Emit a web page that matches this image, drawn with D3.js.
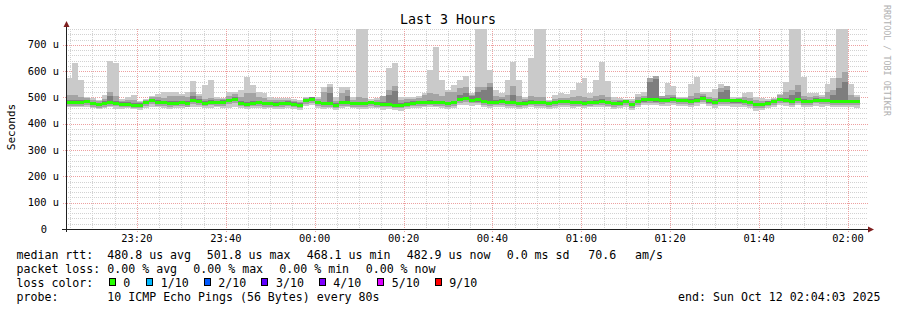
<!DOCTYPE html>
<html>
<head>
<meta charset="utf-8">
<script src="https://cdn.jsdelivr.net/npm/d3@7"></script>
<style>
    body { margin: 0; background: #ffffff; }
    text { font-family: "DejaVu Sans Mono", monospace; fill: #000000; }
</style>
</head>
<body>
<script>
// ---------------------------------------------------------------------------- //
//                                   DATA                                       //
// ---------------------------------------------------------------------------- //

// one value per 80 s step, 10 pings per step (sorted ping times in us)
var median = [481,480,481,485,477,473,477,480,478,474,474,471,470,480,489,481,481,477,478,480,477,489,486,478,482,481,482,488,494,478,474,478,480,476,
              477,474,476,478,474,470,489,494,481,476,477,471,480,481,477,476,476,480,477,474,474,471,471,475,478,480,481,482,481,480,476,480,494,496,
              490,491,486,480,482,486,480,481,477,478,482,480,480,476,480,484,484,480,481,478,481,482,486,481,477,478,484,473,485,491,494,491,489,
              490,493,488,488,486,490,497,487,482,489,489,487,487,485,481,472,473,478,485,492,490,486,493,486,485,490,488,488,486,486,486,485,484];

var ping10 = [573,630,567,500,497,490,510,640,630,495,500,510,487,493,505,513,520,520,520,513,520,561,513,548,567,500,497,522,520,530,579,548,520,517,
              500,498,496,496,493,490,502,502,502,541,552,500,541,541,500,790,790,494,496,505,611,630,500,500,500,505,517,604,693,567,530,548,567,582,
              517,790,790,604,529,517,567,636,567,500,649,790,790,492,510,517,513,530,556,573,516,567,636,563,500,497,494,494,513,520,573,583,502,
              556,543,500,502,551,579,520,520,531,551,541,500,500,516,520,503,498,494,498,513,560,790,790,579,516,518,510,551,573,790,790,551,510];

var ping9  = [510,508,500,498,490,485,495,520,505,488,490,492,482,490,500,502,498,505,504,505,503,520,505,495,498,494,493,505,512,500,515,515,500,498,
              492,490,489,490,486,482,498,500,495,520,540,488,515,530,490,500,498,488,490,505,530,545,492,494,495,496,510,515,512,505,520,520,535,540,
              510,540,541,556,505,500,510,545,505,495,505,500,500,486,495,498,498,500,505,500,496,505,510,500,490,490,492,486,500,505,575,580,505,
              510,510,498,497,505,515,512,500,498,535,545,495,498,500,498,490,488,488,495,510,520,530,548,505,500,505,502,520,530,575,598,510,500];

var ping8  = [490,490,490,492,484,480,485,505,486,482,482,479,477,487,495,489,488,485,486,488,485,505,493,486,489,488,489,495,502,486,482,486,488,484,
              484,481,483,485,481,477,495,500,488,483,515,478,487,505,484,483,483,487,484,481,510,525,478,482,485,487,488,489,488,487,483,487,510,515,
              505,520,530,540,489,493,487,510,484,485,489,487,487,483,487,491,491,487,488,485,488,489,493,488,484,485,491,480,492,498,560,570,496,
              497,500,495,495,493,497,504,494,489,520,530,494,494,492,488,479,480,485,492,499,497,510,520,493,492,497,495,495,510,535,560,492,491];

var ping3  = [475,474,474,478,471,467,471,474,472,468,468,465,464,474,482,475,475,471,472,474,471,482,479,472,476,475,476,481,487,472,468,472,474,470,
              471,468,470,472,468,464,482,487,475,470,471,465,474,475,471,470,470,474,471,468,468,465,465,469,472,474,475,476,475,474,470,474,487,489,
              483,484,479,474,476,479,474,475,471,472,476,474,474,470,474,477,477,474,475,472,475,476,479,475,471,472,477,467,478,484,487,484,482,
              483,486,481,481,479,483,489,480,476,482,482,480,480,478,475,466,467,472,478,485,483,479,486,479,478,483,481,481,479,479,479,478,477];

var ping2  = [468,468,469,472,465,461,465,468,466,462,462,460,458,467,475,469,468,465,466,468,465,476,473,466,470,469,469,475,480,466,462,466,468,464,
              465,462,464,466,462,458,476,480,469,464,465,459,468,469,465,464,464,468,465,462,462,459,459,463,466,468,469,470,469,468,464,468,480,482,
              477,478,473,468,470,473,468,469,465,466,470,468,468,464,468,471,471,468,469,466,469,470,473,469,465,466,471,461,472,478,480,478,476,
              477,480,475,475,473,477,482,474,470,476,476,474,474,472,469,460,461,466,472,478,477,473,480,473,472,477,475,475,473,473,473,472,471];

var ping1  = [465,465,463,465,458,455,460,462,457,455,458,455,452,460,465,462,460,455,458,460,462,465,462,460,460,462,460,458,462,458,455,460,460,455,
              458,455,457,460,455,452,468,472,460,456,458,452,460,462,458,455,456,460,458,454,455,452,450,456,458,460,462,463,462,460,456,460,470,472,
              468,470,465,460,462,465,458,460,456,458,462,458,460,455,460,464,464,460,462,458,462,462,465,462,456,458,464,452,465,470,472,470,468,
              468,472,466,466,464,468,474,466,460,466,466,465,465,463,460,450,452,458,464,470,468,464,472,464,462,468,465,466,462,462,462,462,460];

var yTickValues  = [0, 100, 200, 300, 400, 500, 600, 700];
var yTickLabels  = ["0", "100 u", "200 u", "300 u", "400 u", "500 u", "600 u", "700 u"];
var lossLabels   = ["0", "1/10", "2/10", "3/10", "4/10", "5/10", "9/10"];
var lossColors   = ["#26ff00", "#00b8ff", "#0059ff", "#5e00ff", "#7e00ff", "#dd00ff", "#ff0000"];

var endTime   = new Date(Date.UTC(2025, 9, 12, 2, 4, 3));
var startTime = new Date(endTime.getTime() - 3 * 3600 * 1000);
var stepMs    = 80 * 1000;

// ---------------------------------------------------------------------------- //
//                                  SETUP                                       //
// ---------------------------------------------------------------------------- //

var W = 897, H = 310;
var pLeft = 66, pRight = 866, pTop = 29, pBottom = 229;

var svg = d3.select("body")
    .append("svg")
    .attr("width", W)
    .attr("height", H);

var x = d3.scaleTime()
    .domain([startTime, endTime])
    .range([pLeft, pRight]);

var y = d3.scaleLinear()
    .domain([0, 760])
    .range([pBottom, pTop]);

var steps = median.map(function (m, i) {
    return {
        t: new Date(startTime.getTime() + i * stepMs),
        med: m,
        p: [ping1[i], ping2[i], ping3[i], ping8[i], ping9[i], ping10[i]]
    };
});
// closing point so the last step gets its width
var last = steps[steps.length - 1];
steps.push({ t: new Date(last.t.getTime() + stepMs), med: last.med, p: last.p });

svg.append("defs").append("clipPath")
    .attr("id", "plot")
    .append("rect")
    .attr("x", pLeft).attr("y", pTop)
    .attr("width", pRight - pLeft).attr("height", pBottom - pTop);

// ---------------------------------------------------------------------------- //
//                                   GRID                                       //
// ---------------------------------------------------------------------------- //

var minorColor = "#d2d2d2";
var majorColor = "#eda0a0";

var minorY = d3.range(0, 761, 20).filter(function (v) { return v % 100 != 0; });
svg.selectAll(".hminor").data(minorY).enter().append("line")
    .attr("x1", pLeft).attr("x2", pRight + 2)
    .attr("y1", function (d) { return Math.round(y(d)) + 0.5; })
    .attr("y2", function (d) { return Math.round(y(d)) + 0.5; })
    .attr("stroke", minorColor)
    .attr("stroke-dasharray", "1,1");

var minorX = d3.utcMinute.every(5).range(startTime, endTime)
    .filter(function (d) { return d.getUTCMinutes() % 20 != 0; });
svg.selectAll(".vminor").data(minorX).enter().append("line")
    .attr("x1", function (d) { return Math.round(x(d)) + 0.5; })
    .attr("x2", function (d) { return Math.round(x(d)) + 0.5; })
    .attr("y1", pTop).attr("y2", pBottom)
    .attr("stroke", minorColor)
    .attr("stroke-dasharray", "1,1");

svg.selectAll(".hmajor").data(yTickValues.slice(1)).enter().append("line")
    .attr("x1", pLeft - 3).attr("x2", pRight + 2)
    .attr("y1", function (d) { return Math.round(y(d)) + 0.5; })
    .attr("y2", function (d) { return Math.round(y(d)) + 0.5; })
    .attr("stroke", majorColor)
    .attr("stroke-dasharray", "1,1");

var majorX = d3.utcMinute.every(20).range(startTime, endTime);
svg.selectAll(".vmajor").data(majorX).enter().append("line")
    .attr("x1", function (d) { return Math.round(x(d)) + 0.5; })
    .attr("x2", function (d) { return Math.round(x(d)) + 0.5; })
    .attr("y1", pTop).attr("y2", pBottom + 3)
    .attr("stroke", majorColor)
    .attr("stroke-dasharray", "1,1");

// ---------------------------------------------------------------------------- //
//                                  SMOKE                                       //
// ---------------------------------------------------------------------------- //

var smokeColors = ["#cacaca", "#a4a4a4", "#7e7e7e"];
var plot = svg.append("g").attr("clip-path", "url(#plot)");

smokeColors.forEach(function (col, k) {
    var band = d3.area()
        .curve(d3.curveStepAfter)
        .x(function (d) { return x(d.t); })
        .y0(function (d) { return y(d.p[k]); })
        .y1(function (d) { return y(d.p[5 - k]); });
    plot.append("path")
        .datum(steps)
        .attr("d", band)
        .attr("fill", col)
        .attr("shape-rendering", "crispEdges");
});

// median drawn as a thin band, coloured by loss
var medBand = d3.area()
    .curve(d3.curveStepAfter)
    .x(function (d) { return x(d.t); })
    .y0(function (d) { return y(d.med) + 1.5; })
    .y1(function (d) { return y(d.med) - 1.5; });

plot.append("path")
    .datum(steps)
    .attr("d", medBand)
    .attr("fill", lossColors[0])
    .attr("shape-rendering", "crispEdges");

// ---------------------------------------------------------------------------- //
//                                   AXES                                       //
// ---------------------------------------------------------------------------- //

var axisColor = "#202020";
var arrowColor = "#7f1f1f";

svg.append("line")
    .attr("x1", pLeft - 4).attr("x2", pRight + 2)
    .attr("y1", pBottom + 0.5).attr("y2", pBottom + 0.5)
    .attr("stroke", axisColor);

svg.append("line")
    .attr("x1", pLeft + 0.5).attr("x2", pLeft + 0.5)
    .attr("y1", pBottom + 3).attr("y2", pTop - 4)
    .attr("stroke", axisColor);

svg.append("path")
    .attr("d", "M" + (pRight + 2) + "," + (pBottom - 2.5) + " L" + (pRight + 8) + "," + (pBottom + 0.5) +
               " L" + (pRight + 2) + "," + (pBottom + 3.5) + " Z")
    .attr("fill", arrowColor);

svg.append("path")
    .attr("d", "M" + (pLeft - 2.5) + "," + (pTop - 2) + " L" + (pLeft + 0.5) + "," + (pTop - 8) +
               " L" + (pLeft + 3.5) + "," + (pTop - 2) + " Z")
    .attr("fill", arrowColor);

svg.selectAll(".ylab").data(yTickValues).enter().append("text")
    .attr("x", function (d) { return d == 0 ? 47 : 59; })
    .attr("y", function (d) { return y(d) + 3.5; })
    .attr("text-anchor", "end")
    .style("font-size", "10.4px")
    .text(function (d, i) { return yTickLabels[i]; });

var fmt = d3.utcFormat("%H:%M");
svg.selectAll(".xlab").data(majorX).enter().append("text")
    .attr("x", function (d) { return x(d); })
    .attr("y", 242)
    .attr("text-anchor", "middle")
    .style("font-size", "10.4px")
    .text(function (d) { return fmt(d); });

// ---------------------------------------------------------------------------- //
//                                   TEXT                                       //
// ---------------------------------------------------------------------------- //

svg.append("text")
    .attr("x", 448).attr("y", 24)
    .attr("text-anchor", "middle")
    .style("font-size", "13.3px")
    .text("Last 3 Hours");

svg.append("text")
    .attr("transform", "translate(15,127) rotate(-90)")
    .attr("text-anchor", "middle")
    .style("font-size", "11px")
    .text("Seconds");

svg.append("text")
    .attr("transform", "translate(884,5) rotate(90)")
    .attr("text-anchor", "start")
    .style("font-size", "8.4px")
    .style("fill", "#b0b0b0")
    .text("RRDTOOL / TOBI OETIKER");

function legendText (xPos, yPos, str, anchor)
{
    return svg.append("text")
        .attr("x", xPos)
        .attr("y", yPos)
        .attr("text-anchor", anchor || "start")
        .style("font-size", "11.6px")
        .text(str);
}

legendText(16.5, 258.5, "median rtt:");
legendText(107.3, 258.5, "480.8 us avg");
legendText(206.7, 258.5, "501.8 us max");
legendText(306.7, 258.5, "468.1 us min");
legendText(406.7, 258.5, "482.9 us now");
legendText(506.7, 258.5, "0.0 ms sd");
legendText(588.3, 258.5, "70.6");
legendText(635, 258.5, "am/s");

legendText(16.5, 272.5, "packet loss:");
legendText(107.3, 272.5, "0.00 % avg");
legendText(193.3, 272.5, "0.00 % max");
legendText(279.3, 272.5, "0.00 % min");
legendText(365.7, 272.5, "0.00 % now");

legendText(16.5, 286.5, "loss color:");
var boxX = [109.5, 146.5, 204.5, 261.5, 319.5, 377.5, 435.5];
var labX = [123.3, 160.7, 218.3, 276, 333.3, 391.7, 449.3];
lossLabels.forEach(function (lab, i) {
    svg.append("rect")
        .attr("x", boxX[i]).attr("y", 278.5)
        .attr("width", 6).attr("height", 7)
        .attr("fill", lossColors[i])
        .attr("stroke", "#000000");
    legendText(labX[i], 286.5, lab);
});

legendText(16.5, 300.5, "probe:");
legendText(107.3, 300.5, "10 ICMP Echo Pings (56 Bytes) every 80s");
legendText(880.5, 300.5, "end: Sun Oct 12 02:04:03 2025", "end");
</script>
</body>
</html>
